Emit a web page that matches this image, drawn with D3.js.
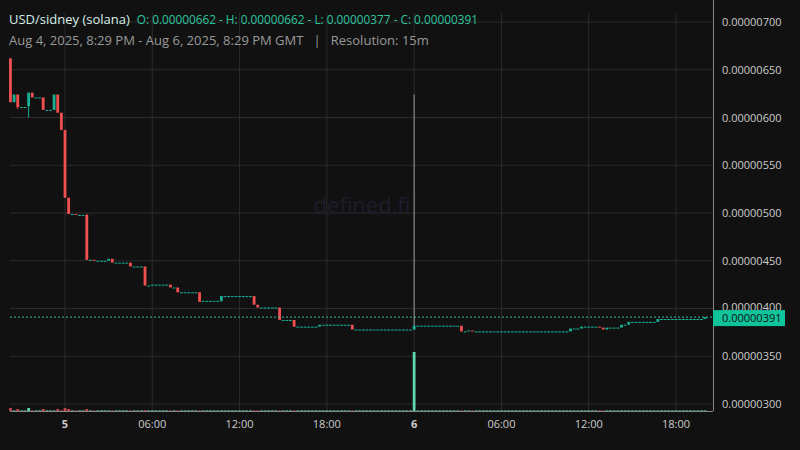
<!DOCTYPE html>
<html><head><meta charset="utf-8">
<script src="https://cdn.jsdelivr.net/npm/d3@7"></script>
<style>body{margin:0;background:#111}</style></head>
<body><svg id="c" width="800" height="450"></svg>
<script>
// prices in units of 1e-8 (e.g. 616 -> 0.00000616); index = 15-minute candle from Aug 4 20:29 GMT
const nCandles = 192;
const firstOpen = 662;
// non-flat candles: [index, open, close, high, low]
const moves = [
 [0,662,616,662,616],[1,616,624,624,616],[2,624,611,624,609],[5,612,626,626,600],
 [6,626,621,626,621],[9,621,608,621,608],[12,608,624,624,608],[13,624,605,624,605],
 [14,605,587,605,587],[15,587,516,587,516],[16,516,499,516,499],[18,499,498,499,498],
 [21,498,451,499,451],[23,451,450,451,450],[27,450,452,452,450],[28,452,448,452,448],
 [33,448,444,448,444],[37,444,424,444,424],[39,424,425,425,424],[44,425,422,425,422],
 [46,422,417,422,417],[52,417,407,417,407],[53,407,408,408,407],[58,408,413,413,407],
 [67,413,404,413,404],[68,404,401,404,401],[74,401,388,401,388],[78,388,381,388,381],
 [85,381,383,383,381],[94,383,378,383,378],[111,378,382,624,378],[124,382,376,382,376],
 [126,376,377,377,376],[127,377,376,377,376],[154,376,379,379,376],[157,379,381,381,379],
 [162,381,380,381,380],[163,380,378,380,378],[164,378,380,380,378],[168,380,383,383,380],
 [170,383,386,386,383],[178,386,389,389,386],[191,389,391,391,389]
];
// volume (arbitrary units)
const volIdx = [0,2,5,9,13,15,16,21,37,111];
const volVal = [3,2,3,2,2,3,2,2,1,60];
const priceTicks = [300,350,400,450,500,550,600,650,700];
const timeTicks = [[15,"5"],[39,"06:00"],[63,"12:00"],[87,"18:00"],[111,"6"],[135,"06:00"],[159,"12:00"],[183,"18:00"]];
const lastPrice = 391;

const candles = [];
let prev = firstOpen;
const mv = new Map(moves.map(m=>[m[0],m]));
for(let i=0;i<nCandles;i++){
  if(mv.has(i)){const m=mv.get(i);candles.push({i,o:m[1],c:m[2],h:m[3],l:m[4]});prev=m[2];}
  else candles.push({i,o:prev,c:prev,h:prev,l:prev});
}
const vols = candles.map(d=>{const k=volIdx.indexOf(d.i);return k>=0?volVal[k]:0.6;});

const svg=d3.select("#c");
svg.append("rect").attr("width",800).attr("height",450).attr("fill","#111");
const L=10,R=713,T=13,B=411;
const x=d3.scaleLinear().domain([15,183]).range([65,676]);
const y=d3.scaleLinear().domain([300,700]).range([404,22]);
const yv=d3.scaleLinear().domain([0,60]).range([B,352]);
const fmt=v=>(v/1e8).toFixed(8);

svg.append("g").selectAll("line").data(priceTicks).join("line")
 .attr("x1",L).attr("x2",R).attr("y1",d=>y(d)).attr("y2",d=>y(d)).attr("stroke","#2b2b2b");
svg.append("g").selectAll("line").data(timeTicks).join("line")
 .attr("x1",d=>x(d[0])).attr("x2",d=>x(d[0])).attr("y1",T).attr("y2",B).attr("stroke","#2b2b2b");

svg.append("text").attr("x",362).attr("y",213).attr("text-anchor","middle").attr("font-family","Open Sans")
 .attr("font-size",22).attr("fill","#1d1d2c").text("defined.fi");

const green="#16b195",red="#f0504f";
const bw=2.8;
svg.append("g").selectAll("rect").data(candles).join("rect")
 .attr("x",d=>x(d.i)-bw/2).attr("width",bw)
 .attr("y",d=>yv(vols[d.i])).attr("height",d=>B-yv(vols[d.i]))
 .attr("fill",d=>d.c<d.o?"#c84a4a":"#5fd4b0");
svg.append("g").selectAll("line").data(candles.filter(d=>d.h>Math.max(d.o,d.c)||d.l<Math.min(d.o,d.c))).join("line")
 .attr("x1",d=>x(d.i)).attr("x2",d=>x(d.i)).attr("y1",d=>y(d.h)).attr("y2",d=>y(d.l))
 .attr("stroke",d=>d.i===111?"#999":(d.c<d.o?red:green)).attr("stroke-width",1);
svg.append("g").selectAll("rect").data(candles).join("rect")
 .attr("x",d=>x(d.i)-bw/2).attr("width",bw)
 .attr("y",d=>y(Math.max(d.o,d.c))).attr("height",d=>Math.max(1,Math.abs(y(d.o)-y(d.c))))
 .attr("fill",d=>d.c<d.o?red:green);

svg.append("line").attr("x1",L).attr("x2",R).attr("y1",y(lastPrice)).attr("y2",y(lastPrice))
 .attr("stroke","#2ec4a0").attr("stroke-dasharray","2,2");

svg.append("line").attr("x1",R+0.5).attr("x2",R+0.5).attr("y1",0).attr("y2",B).attr("stroke","#888");
svg.append("line").attr("x1",L).attr("x2",R).attr("y1",B+0.5).attr("y2",B+0.5).attr("stroke","#888");

svg.append("g").selectAll("text").data(priceTicks.filter(d=>d!==400)).join("text")
 .attr("x",722).attr("y",d=>y(d)+4).attr("font-family","Open Sans").attr("font-size",11).attr("fill","#ccc").text(fmt);
svg.append("text").attr("x",722).attr("y",y(400)+2).attr("font-family","Open Sans").attr("font-size",11).attr("fill","#ccc").text(fmt(400));
svg.append("rect").attr("x",713).attr("y",y(lastPrice)-7).attr("width",72).attr("height",16).attr("fill","#0fc39a");
svg.append("text").attr("x",722).attr("y",y(lastPrice)+5).attr("font-family","Open Sans").attr("font-size",11).attr("fill","#111").text(fmt(lastPrice));

svg.append("g").selectAll("text").data(timeTicks).join("text")
 .attr("x",d=>x(d[0])).attr("y",428).attr("text-anchor","middle").attr("font-family","Open Sans").attr("font-size",11)
 .attr("font-weight",d=>d[1].length===1?"bold":"normal").attr("fill","#ccc").text(d=>d[1]);

const h=svg.append("text").attr("x",9).attr("y",24).attr("font-family","Open Sans").attr("font-size",13);
h.append("tspan").attr("fill","#d6efe6").text("USD/sidney (solana)");
h.append("tspan").attr("fill","#2ec4a0").attr("font-size",11.8).attr("dx",7)
 .text("O: "+fmt(662)+" - H: "+fmt(662)+" - L: "+fmt(377)+" - C: "+fmt(391));
svg.append("text").attr("x",9).attr("y",45).attr("font-family","Open Sans").attr("font-size",13).attr("fill","#999")
 .attr("xml:space","preserve").text("Aug 4, 2025, 8:29 PM - Aug 6, 2025, 8:29 PM GMT   |   Resolution: 15m");
</script></body></html>
